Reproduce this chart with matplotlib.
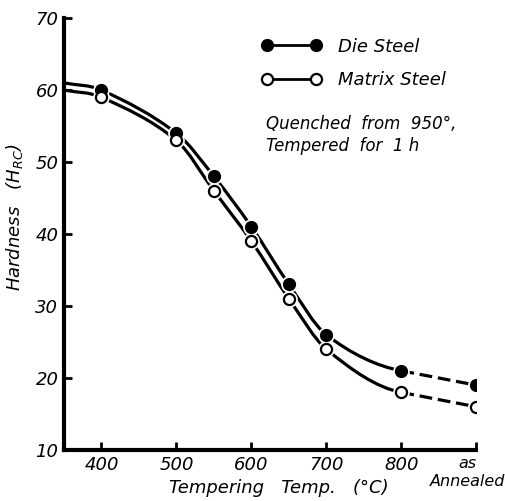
import numpy as np
import matplotlib
matplotlib.use("Agg")
import matplotlib.pyplot as plt
import matplotlib.transforms as mtransforms
from matplotlib.path import Path
from matplotlib.patches import PathPatch
from matplotlib.lines import Line2D

plt.rcParams['font.family'] = ['DejaVu Sans']
plt.rcParams['font.style'] = 'italic'
plt.rcParams['mathtext.fontset'] = 'dejavusans'

# values
temps = [350, 400, 500, 550, 600, 650, 700, 800]
die_hrc = [61, 60, 54, 48, 41, 33, 26, 21]
matrix_hrc = [60, 59, 53, 46, 39, 31, 24, 18]
annealed_x = 900
die_annealed = 19
matrix_annealed = 16

xticks = [400, 500, 600, 700, 800, 900]
xticklabels = ['400', '500', '600', '700', '800', 'as\nAnnealed']
yticks = [10, 20, 30, 40, 50, 60, 70]


def smooth_path(xs, ys, end_slope):
    # cubic hermite (catmull-rom style slopes) drawn as bezier segments
    xs = np.asarray(xs, float)
    ys = np.asarray(ys, float)
    h = np.diff(xs)
    d = np.diff(ys) / h
    m = np.zeros_like(ys)
    m[0] = d[0]
    m[-1] = end_slope
    for i in range(1, len(xs) - 1):
        m[i] = (ys[i + 1] - ys[i - 1]) / (xs[i + 1] - xs[i - 1])
    verts = [(xs[0], ys[0])]
    codes = [Path.MOVETO]
    for i in range(len(xs) - 1):
        verts += [(xs[i] + h[i] / 3, ys[i] + m[i] * h[i] / 3),
                  (xs[i + 1] - h[i] / 3, ys[i + 1] - m[i + 1] * h[i] / 3),
                  (xs[i + 1], ys[i + 1])]
        codes += [Path.CURVE4] * 3
    return Path(verts, codes)


fig = plt.figure(figsize=(5.06, 5.01), dpi=100)
ax = fig.add_axes([0.1265, 0.1018, 0.815, 0.862])

lw = 2.3
for vals, end in ((die_hrc, die_annealed), (matrix_hrc, matrix_annealed)):
    slope = (end - vals[-1]) / (annealed_x - temps[-1])
    ax.add_patch(PathPatch(smooth_path(temps, vals, slope), fill=False, lw=lw,
                           color='black', capstyle='butt', zorder=2))
    ax.plot([temps[-1], annealed_x], [vals[-1], end], color='black', lw=lw,
            dashes=(4, 1.8), zorder=2)

# white halo under the markers
ax.plot(temps[1:] + [annealed_x], die_hrc[1:] + [die_annealed], 'o', ms=11,
        color='white', zorder=3)
ax.plot(temps[1:] + [annealed_x], matrix_hrc[1:] + [matrix_annealed], 'o',
        ms=11, color='white', zorder=3)
ax.plot(temps[1:] + [annealed_x], die_hrc[1:] + [die_annealed], 'o', ms=8.5,
        color='black', zorder=4)
ax.plot(temps[1:] + [annealed_x], matrix_hrc[1:] + [matrix_annealed], 'o',
        ms=8, mfc='white', mec='black', mew=1.6, zorder=4)

ax.set_xlim(350, 900)
ax.set_ylim(10, 70)
ax.set_xticks(xticks)
ax.set_xticklabels(xticklabels, fontsize=13)
ax.set_yticks(yticks)
ax.set_yticklabels([str(v) for v in yticks], fontsize=13)
ax.tick_params(direction='in', length=6, width=2, pad=4)

# keep "as Annealed" inside the figure
last = ax.get_xticklabels()[-1]
last.set_fontsize(11.5)
last.set_linespacing(1.25)
last.set_transform(last.get_transform() +
                   mtransforms.ScaledTranslation(-0.09, 0, fig.dpi_scale_trans))

for s in ('top', 'right'):
    ax.spines[s].set_visible(False)
for s in ('left', 'bottom'):
    ax.spines[s].set_linewidth(3)

ax.set_xlabel('Tempering   Temp.   (°C)', fontsize=13)
ax.xaxis.set_label_coords(0.52, -0.066)
ax.set_ylabel('Hardness   ($H_{RC}$)', fontsize=13)
ax.yaxis.set_label_coords(-0.095, 0.54)

handles = [
    Line2D([], [], color='black', lw=2, marker='o', ms=8.5),
    Line2D([], [], color='black', lw=2, marker='o', ms=8, mfc='white',
           mew=1.6),
]
ax.legend(handles, ['Die Steel', 'Matrix Steel'], loc='upper left',
          bbox_to_anchor=(0.48, 0.955), frameon=False, numpoints=2,
          handlelength=3.3, handletextpad=0.9, labelspacing=0.85,
          borderpad=0, borderaxespad=0, fontsize=13)

ax.text(0.49, 0.775, 'Quenched  from  950°,\nTempered  for  1 h',
        transform=ax.transAxes, fontsize=12, va='top', ha='left',
        linespacing=1.25)

fig.savefig('out.png', dpi=100)
